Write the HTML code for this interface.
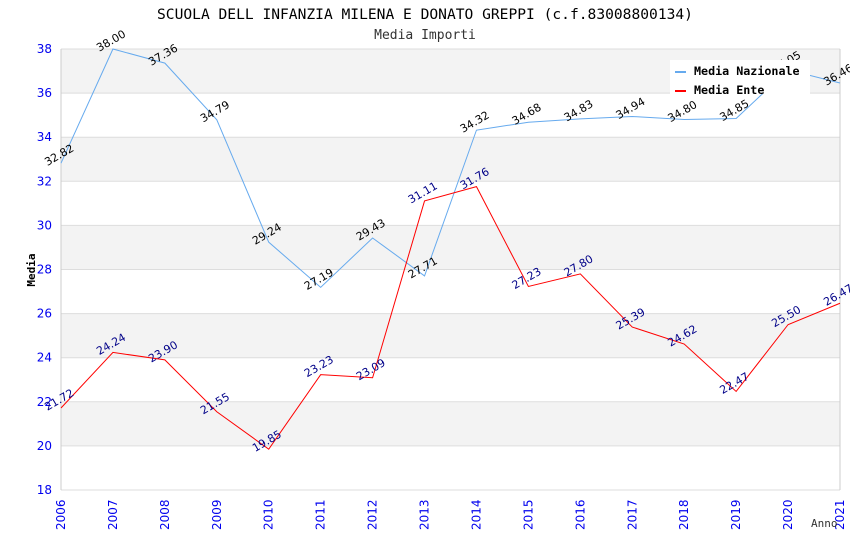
<!DOCTYPE html>
<html><head><meta charset="utf-8"><style>
body{margin:0;background:#fff;}
svg{display:block;font-family:"DejaVu Sans Mono","Liberation Mono",monospace;}
.s{font-family:"DejaVu Sans","Liberation Sans",sans-serif;}
</style></head><body>
<svg id="c" width="850" height="550"></svg>
<script>
const years=[2006,2007,2008,2009,2010,2011,2012,2013,2014,2015,2016,2017,2018,2019,2020,2021];
const nazionale=[32.82,38.00,37.36,34.79,29.24,27.19,29.43,27.71,34.32,34.68,34.83,34.94,34.80,34.85,37.05,36.46];
const ente=[21.72,24.24,23.90,21.55,19.85,23.23,23.09,31.11,31.76,27.23,27.80,25.39,24.62,22.47,25.50,26.47];
const yTicks=[18,20,22,24,26,28,30,32,34,36,38];
const L=61,R=840,T=49,B=490,ymin=18,ymax=38;
const x=i=>L+(R-L)*i/(years.length-1);
const y=v=>B-(v-ymin)/(ymax-ymin)*(B-T);
const svg=document.getElementById('c');
const NS='http://www.w3.org/2000/svg';
function mk(t,a,txt){const e=document.createElementNS(NS,t);for(const k in a)e.setAttribute(k,a[k]);if(txt!=null)e.textContent=txt;svg.appendChild(e);return e;}
for(let i=0;i<yTicks.length-1;i++){
  if(i%2===1){const r=mk('rect',{x:L,y:y(yTicks[i+1]),width:R-L,height:y(yTicks[i])-y(yTicks[i+1]),fill:'#f3f3f3'});
  
  }
}
yTicks.forEach(v=>{
  const g=mk('line',{x1:L,x2:R,y1:y(v),y2:y(v),stroke:'#dddddd','stroke-width':1});
  
  
  const t=mk('text',{class:'s',x:L-9,y:y(v)+4,'text-anchor':'end','font-size':12,fill:'#0000ee'},v);
  
  
});
mk('line',{x1:L,x2:L,y1:T,y2:B,stroke:'#cccccc'});
mk('line',{x1:R,x2:R,y1:T,y2:B,stroke:'#cccccc'});
years.forEach((yr,i)=>{
  const t=mk('text',{class:'s',transform:`translate(${x(i)+4},${B+40}) rotate(-90)`,'font-size':12,fill:'#0000ee'},yr);
  
  
});
function series(vals,color,lblColor,name){
  const p=mk('polyline',{points:vals.map((v,i)=>x(i)+','+y(v)).join(' '),fill:'none',stroke:color,'stroke-width':1});
  
  
  vals.forEach((v,i)=>{
    const t=mk('text',{class:'s',transform:`translate(${x(i)},${y(v)-5}) rotate(-30)`,'text-anchor':'middle','font-size':11,fill:lblColor},v.toFixed(2));
    
    
  });
}
series(nazionale,'#66aaee','#000','nazionale');
series(ente,'#ff0000','#000088','ente');
const lg=mk('rect',{x:670,y:60,width:140,height:34,fill:'#fff'});


mk('line',{x1:675,x2:686,y1:72,y2:72,stroke:'#66aaee','stroke-width':2});
mk('line',{x1:675,x2:686,y1:91,y2:91,stroke:'#ff0000','stroke-width':2});
const l1=mk('text',{x:694,y:75,'font-size':11.7,'font-weight':'bold',fill:'#000'},'Media Nazionale');


const l2=mk('text',{x:694,y:94,'font-size':11.7,'font-weight':'bold',fill:'#000'},'Media Ente');


const tt=mk('text',{x:425,y:19,'text-anchor':'middle','font-size':14.6,fill:'#000'},'SCUOLA DELL INFANZIA MILENA E DONATO GREPPI (c.f.83008800134)');


const st=mk('text',{x:425,y:39,'text-anchor':'middle','font-size':13,fill:'#333'},'Media Importi');


const ya=mk('text',{transform:'translate(35,270) rotate(-90)','text-anchor':'middle','font-size':11,'font-weight':'bold',fill:'#000'},'Media');


const xa=mk('text',{x:811,y:527,'font-size':11,fill:'#333'},'Anno');


</script>
</body></html>
